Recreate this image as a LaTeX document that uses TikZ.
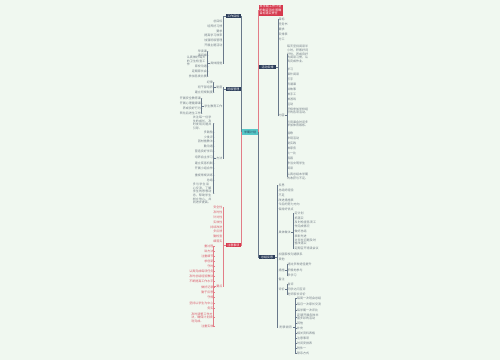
\documentclass[tikz,border=0pt]{standalone}
\usepackage{fontspec}
\setmainfont{Noto Sans CJK SC}
\XeTeXlinebreaklocale "zh"
\XeTeXlinebreakskip=0pt plus 0.5pt
\definecolor{bgmint}{RGB}{240,248,240}
\definecolor{navy}{RGB}{44,62,90}
\definecolor{brline}{RGB}{105,120,138}
\definecolor{rdline}{RGB}{226,125,135}
\definecolor{rdfill}{RGB}{214,58,78}
\definecolor{ctrteal}{RGB}{86,200,200}
\definecolor{leafgray}{RGB}{115,125,135}
\definecolor{leafred}{RGB}{218,90,105}
\tikzset{
  every node/.style={font=\fontsize{3}{3.6}\selectfont,inner sep=0.5pt},
  bline/.style={draw=brline,line width=0.6pt},
  rline/.style={draw=rdline,line width=0.6pt},
  trunk/.style={line width=1pt},
  topic/.style={fill=navy,text=white,minimum width=15pt,minimum height=4pt},
  rtopic/.style={fill=rdfill,text=white,minimum width=15pt,minimum height=4pt},
  leaf/.style={text=leafgray},
  rleaf/.style={text=leafred},
  block/.style={text=leafgray,text width=20pt,align=left},
}
\begin{document}
\begin{tikzpicture}[x=1pt,y=-1pt]
\useasboundingbox (0,0) rectangle (500,360);
\fill[bgmint] (0,0) rectangle (500,360);
% centre and main topics
\node[fill=ctrteal,text=navy,minimum width=16pt,minimum height=6pt] (ctr) at (250,132) {学期计划};
\node[topic,anchor=east] (L1) at (241,16) {工作目标};
\node[topic,anchor=east] (L2) at (241,89) {班级管理};
\node[rtopic,anchor=east] (L3) at (241,245) {注意事项};
\node[fill=rdfill,text=white,text width=23pt,align=left,anchor=west] (R0) at (259,10) {本学期工作计划的制定旨在明确目标落实责任};
\node[topic,anchor=west,minimum width=17pt] (R1) at (259,67) {活动安排};
\node[topic,anchor=west,minimum width=16pt] (R2) at (259,257) {总结反思};
\draw[bline,trunk] (ctr.west) |- (L1.east);
\draw[bline,trunk] (ctr.west) |- (L2.east);
\draw[rline,trunk] (ctr.west) |- (L3.east);
\draw[bline,trunk] (ctr.east) |- (R1.west);
\draw[bline,trunk] (ctr.east) |- (R2.west);
\draw[rline,trunk] (ctr.east) |- (R0.west);
% left top
\foreach \y/\t [count=\i] in {21/总目标,26/培养好习惯,31/要求,35.5/提高学习效率,40/加强班级管理,45/开展主题活动} {
  \node[leaf,anchor=east] (a\i) at (223,\y) {\t};
  \draw[bline] (L1.west) -- ++(-2,0) |- (a\i.east);
}
\node[leaf,anchor=east,minimum width=13pt] (L1a) at (223,63) {具体措施};
\draw[bline] (L1.west) -- ++(-2,0) |- (L1a.east);
\foreach \y/\t [count=\i] in {51/早读课,55.5/课间操,66.5/家校沟通,71.5/定期家长会,76.5/参加各类比赛} {
  \node[leaf,anchor=east] (aa\i) at (207.5,\y) {\t};
  \draw[bline] (L1a.west) -- ++(-2,0) |- (aa\i.east);
}
\node[block,anchor=east] (ab) at (207.5,61) {认真做好每天的卫生检查工作};
\draw[bline] (L1a.west) -- ++(-2,0) |- (ab.east);
% left middle
\node[leaf,anchor=east,minimum width=7pt] (L2x) at (223,87) {制度};
\node[leaf,anchor=east,minimum width=19pt] (L2a) at (223,106) {学生教育工作};
\node[leaf,anchor=east,minimum width=7pt] (L2b) at (223,158) {方法};
\foreach \n in {L2x,L2a,L2b} \draw[bline] (L2.west) -- ++(-2,0) |- (\n.east);
\foreach \y/\t [count=\i] in {82/纪律,87/班干部培养,92/建立班规制度} {
  \node[leaf,anchor=east] (b\i) at (213.5,\y) {\t};
  \draw[bline] (L2x.west) -- ++(-2,0) |- (b\i.east);
}
\foreach \y/\t [count=\i] in {98/开展安全教育课,103/开展心理健康课,108/养成良好行为,113/转化后进生工作} {
  \node[leaf,anchor=east] (c\i) at (201.5,\y) {\t};
  \draw[bline] (L2a.west) -- ++(-2,0) |- (c\i.east);
}
\foreach \y/\t [count=\i] in {132/多鼓励,137/少批评,141.5/因材施教法,146/勤沟通,151/营造良好学风,157/培养自主学习,163/建立奖惩机制,168/开展小组合作,175/重视常规训练,180/总结} {
  \node[leaf,anchor=east] (d\i) at (213.5,\y) {\t};
  \draw[bline] (L2b.west) -- ++(-2,0) |- (d\i.east);
}
\node[block,anchor=east] (db1) at (213.5,123) {关注每一位学生的成长，及时发现问题并引导。};
\node[block,anchor=east] (db2) at (213.5,193.5) {多与学生谈心交流，了解学生的思想动态，帮助学生树立信心，共同进步提高。};
\foreach \n in {db1,db2} \draw[bline] (L2b.west) -- ++(-2,0) |- (\n.east);
% left bottom
\foreach \y/\t [count=\i] in {207/安全性,212/及时性,217/针对性,222/实效性,227/持续改进,231.5/多反馈,236/勤检查,241/细落实} {
  \node[rleaf,anchor=east] (e\i) at (223,\y) {\t};
  \draw[rline] (L3.west) -- ++(-2,0) |- (e\i.east);
}
\node[rleaf,anchor=east,minimum width=7pt] (L3a) at (223,286) {要点};
\draw[rline] (L3.west) -- ++(-2,0) |- (L3a.east);
\foreach \y/\t [count=\i] in {246/重过程,251/讲方法,256/注重细节,261/求创新,266/守时,271/认真完成每项任务,276/及时总结经验教训,281/不断提高工作水平,287/做好记录,292/勤于反思,297/守规,303/坚持以学生为中心,308/务实,326/注重实效} {
  \node[rleaf,anchor=east] (f\i) at (214,\y) {\t};
  \draw[rline] (L3a.west) -- ++(-2,0) |- (f\i.east);
}
\node[block,text=leafred,text width=22pt,anchor=east] (fb) at (214,317.5) {及时调整工作方法，确保计划顺利完成。};
\draw[rline] (L3a.west) -- ++(-2,0) |- (fb.east);
% right top
\foreach \y/\t [count=\i] in {19/目标,24/任务书,29/要求,34/安排表,39/分工} {
  \node[leaf,anchor=west] (g\i) at (278,\y) {\t};
  \draw[bline] (R1.east) -- ++(1.5,0) |- (g\i.west);
}
\node[leaf,anchor=west,minimum width=6pt] (R1a) at (278,115) {内容};
\draw[bline] (R1.east) -- ++(1.5,0) |- (R1a.west);
\foreach \y/\t [count=\i] in {69/学习,74/课外阅读,79/写字,84/背诵课,89/讲故事,94/做手工,99/做游戏,104/运动,133/唱歌,138/参观活动,143/勤实践,148/做家务,153/比一比,158/画画,163/争当文明学生,168/阅读} {
  \node[leaf,anchor=west] (h\i) at (286.5,\y) {\t};
  \draw[bline] (R1a.east) -- ++(1.5,0) |- (h\i.west);
}
\foreach \y/\t [count=\i] in {54/{每天坚持阅读半小时，积累好词好句，养成良好的阅读习惯，认真完成作业。},111/{积极参加学校组织的各项活动。},124/{利用课余时间多参加体育锻炼。},176.5/{认真总结本学期的收获与不足。}} {
  \node[block,text width=21pt,anchor=west] (hb\i) at (286.5,\y) {\t};
  \draw[bline] (R1a.east) -- ++(1.5,0) |- (hb\i.west);
}
% right bottom
\foreach \y/\t [count=\i] in {185/反思,190/总结好经验,195/不足,200/改进措施表,204.5/今后的努力方向,209/保持好优点,254/加强家校沟通联系,259/其他,279/备注} {
  \node[leaf,anchor=west] (k\i) at (278,\y) {\t};
  \draw[bline] (R2.east) -- ++(1.5,0) |- (k\i.west);
}
\node[leaf,anchor=west,minimum width=13pt] (R2a) at (278,232) {具体做法};
\node[leaf,anchor=west,minimum width=6pt] (R2b) at (278,270) {措施};
\node[leaf,anchor=west,minimum width=6pt] (R2c) at (278,289) {评价};
\node[leaf,anchor=west,minimum width=15pt] (R2d) at (278,327) {附录说明};
\foreach \n in {R2a,R2b,R2c,R2d} \draw[bline] (R2.east) -- ++(1.5,0) |- (\n.west);
\foreach \y/\t [count=\i] in {213.5/定计划,218.5/抓落实,231/做好总结,236/表彰先进,248.5/定期召开班级会议} {
  \node[leaf,anchor=west] (m\i) at (294,\y) {\t};
  \draw[bline] (R2a.east) -- ++(1.5,0) |- (m\i.west);
}
\foreach \y/\t [count=\i] in {224.5/{及时检查各项工作完成情况},242/{对存在问题及时整改落实}} {
  \node[block,text width=22pt,anchor=west] (mb\i) at (294,\y) {\t};
  \draw[bline] (R2a.east) -- ++(1.5,0) |- (mb\i.west);
}
\foreach \y/\t [count=\i] in {264/通过多种途径提升,270/积极地参与,275/多学习} {
  \node[leaf,anchor=west] (n\i) at (287,\y) {\t};
  \draw[bline] (R2b.east) -- ++(1.5,0) |- (n\i.west);
}
\foreach \y/\t [count=\i] in {284/自评,289/同学之间互评,294/老师家长评价} {
  \node[leaf,anchor=west] (p\i) at (287,\y) {\t};
  \draw[bline] (R2c.east) -- ++(1.5,0) |- (p\i.west);
}
\foreach \y/\t [count=\i] in {298.5/每周一次班会总结,304.5/每月一次家长交流,310.5/每学期一次评比,323.5/其他,328.5/补充,333.5/相关资料表格,338.5/注意事项,343.5/时间安排表,348.5/附件一,353.5/联系方式} {
  \node[leaf,anchor=west] (q\i) at (296.5,\y) {\t};
  \draw[bline] (R2d.east) -- ++(1.5,0) |- (q\i.west);
}
\node[block,text width=22pt,anchor=west] (qb) at (296.5,317) {定期开展各种丰富多彩的活动};
\draw[bline] (R2d.east) -- ++(1.5,0) |- (qb.west);
\end{tikzpicture}
\end{document}
